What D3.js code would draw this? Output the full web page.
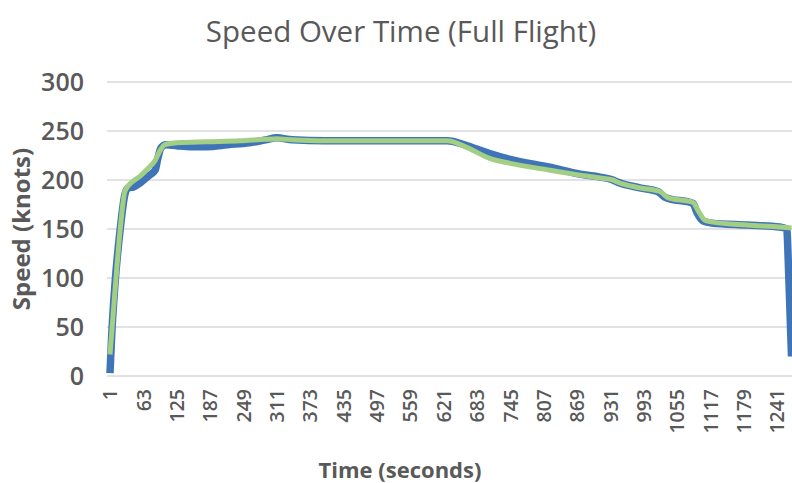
<!DOCTYPE html>
<html>
<head>
<meta charset="utf-8">
<script src="https://cdn.jsdelivr.net/npm/d3@7"></script>
<style>
  html, body { margin: 0; padding: 0; background: #fff; }
  svg { display: block; }
  text { font-family: "Open Sans", "Noto Sans", sans-serif; fill: #595959; }
</style>
</head>
<body>
<svg id="chart" width="792" height="483"></svg>
<script>
// Flight speed record: raw sensor speed and its smoothed trace (knots vs seconds)
const measuredTime  = [1, 4, 10, 20, 29, 35, 45, 57, 72, 85, 90, 96, 105, 125, 150, 181, 220, 260, 290, 311, 340, 400, 500, 628, 660, 680, 707, 745, 819, 875, 912, 936, 944, 986, 1020, 1034, 1085, 1092, 1104, 1120, 1185, 1246, 1259, 1263, 1268];
const measuredSpeed = [3, 40, 92, 150, 186, 192, 193, 197, 204, 210, 222, 233, 236, 235, 234, 234, 236, 238, 241, 243, 241, 240, 240, 240, 236, 232, 227, 221, 213, 206, 203, 200, 198, 192, 188, 182, 176, 167, 158, 156, 154, 152, 150, 100, 20];

const smoothedTime  = [1, 10, 20, 29, 42, 57, 72, 85, 94, 103, 126, 181, 243, 290, 311, 340, 400, 500, 628, 665, 707, 745, 819, 875, 912, 936, 944, 986, 1024, 1038, 1085, 1094, 1107, 1122, 1185, 1246, 1268];
const smoothedSpeed = [22, 85, 150, 189, 198, 204, 212, 220, 230, 236, 238, 239, 240, 241.5, 242, 241, 240, 240, 240, 233, 222, 217, 210, 205, 202, 200, 198, 192, 188, 182, 177, 169, 159, 157, 154, 152, 151];

const yTicks = [0, 50, 100, 150, 200, 250, 300];
const xTickLabels = d3.range(1, 1242, 62);   // 1, 63, 125, ... 1241

const chartTitle = "Speed Over Time (Full Flight)";
const xTitle = "Time (seconds)";
const yTitle = "Speed (knots)";

const plotLeft = 107, plotRight = 800, plotTop = 82, plotBottom = 376;

const svg = d3.select("#chart");

const x = d3.scaleLinear().domain([1, 1241]).range([110, 777]);
const y = d3.scaleLinear().domain([0, 300]).range([plotBottom, plotTop]);

// horizontal gridlines
svg.append("g")
  .selectAll("line")
  .data(yTicks)
  .join("line")
  .attr("x1", plotLeft).attr("x2", plotRight)
  .attr("y1", d => y(d)).attr("y2", d => y(d))
  .attr("stroke", "#d9d9d9")
  .attr("stroke-width", 1.5);

// y axis labels
const yAxis = svg.append("g")
  .attr("transform", `translate(${plotLeft - 23},0)`)
  .call(d3.axisLeft(y).tickValues(yTicks).tickSize(0).tickPadding(0));
yAxis.select(".domain").remove();
yAxis.selectAll("text")
  .attr("font-size", 25)
  .attr("font-weight", 600)
  .attr("fill", "#595959");

// x axis labels (rotated)
const xAxis = svg.append("g")
  .attr("transform", `translate(0,${plotBottom})`)
  .call(d3.axisBottom(x).tickValues(xTickLabels).tickSize(0).tickFormat(d3.format("d")));
xAxis.select(".domain").remove();
xAxis.selectAll("text")
  .attr("font-size", 19.5)
  .attr("font-weight", 600)
  .attr("fill", "#595959")
  .attr("transform", "rotate(-90)")
  .attr("text-anchor", "end")
  .attr("dy", "0.35em")
  .attr("x", -13)
  .attr("y", 0);

// series lines
const line = d3.line()
  .x(d => x(d[0]))
  .y(d => y(d[1]))
  .curve(d3.curveMonotoneX);

const measured = measuredTime.map((t, i) => [t, measuredSpeed[i]]);
const smoothed = smoothedTime.map((t, i) => [t, smoothedSpeed[i]]);

svg.append("path")
  .datum(measured)
  .attr("d", line)
  .attr("fill", "none")
  .attr("stroke", "#3f74b8")
  .attr("stroke-width", 7.5)
  .attr("stroke-linejoin", "round")
  .attr("stroke-linecap", "butt");

svg.append("path")
  .datum(smoothed)
  .attr("d", line)
  .attr("fill", "none")
  .attr("stroke", "#a2cf84")
  .attr("stroke-width", 5)
  .attr("stroke-linejoin", "round")
  .attr("stroke-linecap", "butt");

// titles
svg.append("text")
  .attr("x", 401).attr("y", 42)
  .attr("text-anchor", "middle")
  .attr("font-size", 29.5)
  .attr("fill", "#595959")
  .text(chartTitle);

svg.append("text")
  .attr("x", 400).attr("y", 478)
  .attr("text-anchor", "middle")
  .attr("font-size", 22)
  .attr("font-weight", 700)
  .text(xTitle);

svg.append("text")
  .attr("transform", `translate(30,${(plotTop + plotBottom) / 2}) rotate(-90)`)
  .attr("text-anchor", "middle")
  .attr("font-size", 24)
  .attr("font-weight", 700)
  .text(yTitle);
</script>
</body>
</html>
